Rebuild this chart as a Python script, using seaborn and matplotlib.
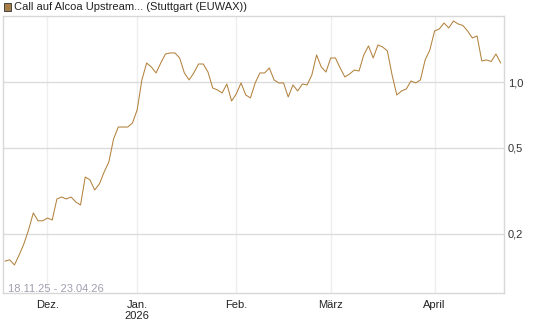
import pandas as pd
import matplotlib
matplotlib.use('Agg')
import matplotlib.pyplot as plt
from matplotlib.patches import Rectangle
from matplotlib.ticker import FixedLocator, FixedFormatter, NullLocator
import seaborn as sns

# ──────────────────────────────────────────────────────────────────────────
# DATEN  (Call auf Alcoa, Stuttgart EUWAX, 18.11.25 - 23.04.26)
# ──────────────────────────────────────────────────────────────────────────
start, ende = '2025-11-18', '2026-04-23'
feiertage = ['2025-12-24', '2025-12-25', '2025-12-26', '2025-12-31',
             '2026-01-01', '2026-04-03', '2026-04-06']

kurse = [
    0.150, 0.152, 0.144, 0.160, 0.180, 0.209, 0.250, 0.230, 0.230, 0.237,
    0.232, 0.290, 0.296, 0.290, 0.296, 0.281, 0.272, 0.366, 0.355, 0.319,
    0.340, 0.386, 0.429, 0.548, 0.622, 0.622, 0.622, 0.649, 0.746, 1.025,
    1.227, 1.176, 1.104, 1.227, 1.350, 1.365, 1.365, 1.294, 1.104, 1.025,
    1.104, 1.214, 1.214, 1.115, 0.941, 0.922, 0.893, 0.982, 0.820, 0.884,
    0.993, 0.874, 0.847, 0.993, 1.104, 1.104, 1.164, 1.025, 0.993, 0.993,
    0.856, 0.972, 0.912, 0.982, 0.972, 1.080, 1.336, 1.176, 1.115, 1.294,
    1.294, 1.164, 1.058, 1.092, 1.139, 1.127, 1.336, 1.470, 1.294, 1.485,
    1.454, 1.394, 1.080, 0.874, 0.912, 0.931, 1.014, 0.993, 1.025, 1.267,
    1.409, 1.723, 1.760, 1.876, 1.779, 1.916, 1.856, 1.827, 1.723, 1.600,
    1.634, 1.254, 1.267, 1.247, 1.350, 1.227,
]

monats_labels = ['Dez.', 'Jan.\n2026', 'Feb.', 'März', 'April']
y_ticks = [0.2, 0.5, 1.0]
y_labels = ['0,2', '0,5', '1,0']

LINIE = '#b3823e'
GITTER = '#dcdcdc'

# Handelstage (ohne Wochenenden / Börsenfeiertage)
tage = pd.bdate_range(start, ende)
tage = tage[~tage.isin(pd.to_datetime(feiertage))]
df = pd.DataFrame({'datum': tage, 'kurs': kurse})
df['pos'] = range(len(df))

monat = df['datum'].dt.to_period('M')
monats_pos = df.loc[monat != monat.shift(), 'pos'].tolist()[1:]

# ──────────────────────────────────────────────────────────────────────────
# GRAFIK
# ──────────────────────────────────────────────────────────────────────────
sns.set_theme(style='white')
plt.rcParams['font.family'] = ['Liberation Sans', 'DejaVu Sans']

W, H = 545, 327
fig = plt.figure(figsize=(W / 100, H / 100), dpi=100)
ax = fig.add_axes([3 / W, (H - 293.3) / H, 500.5 / W, 277.3 / H])

sns.lineplot(data=df, x='pos', y='kurs', ax=ax, color=LINIE, linewidth=0.75)

ax.set_yscale('log')
ax.set_ylim(0.1066, 2.02)
ax.set_xlim(-0.42, 105.6)

ax.yaxis.tick_right()
ax.yaxis.set_major_locator(FixedLocator(y_ticks))
ax.yaxis.set_major_formatter(FixedFormatter(y_labels))
ax.yaxis.set_minor_locator(NullLocator())
ax.tick_params(axis='y', length=0, pad=3, labelsize=8, labelcolor='#333333')

ax.set_xticks(monats_pos)
ax.set_xticklabels(monats_labels)
ax.tick_params(axis='x', length=3, width=1, color='#d8d8d8', pad=1.5,
               labelsize=8, labelcolor='#222222')

ax.grid(axis='y', color=GITTER, linewidth=1)
ax.grid(axis='x', color='#eeeeee', linewidth=1)
ax.set_axisbelow(True)
for s in ax.spines.values():
    s.set_color('#d8d8d8')
    s.set_linewidth(1)
ax.set_xlabel('')
ax.set_ylabel('')

# Zeitraum unten links
fig.text(7.5 / W, 1 - 288.7 / H, '18.11.25 - 23.04.26', va='center',
         ha='left', fontsize=8, color='#a0a0b0')

# Legende oben
fig.add_artist(Rectangle((3.5 / W, 1 - 10.5 / H), 7 / W, 7 / H,
                         transform=fig.transFigure, facecolor='#a87e48',
                         edgecolor='#444444', linewidth=0.7))
fig.text(14 / W, 1 - 7 / H, 'Call auf Alcoa Upstream... (Stuttgart (EUWAX))',
         va='center', ha='left', fontsize=8, color='#222222')

fig.savefig('out.png', dpi=100)
plt.close()
